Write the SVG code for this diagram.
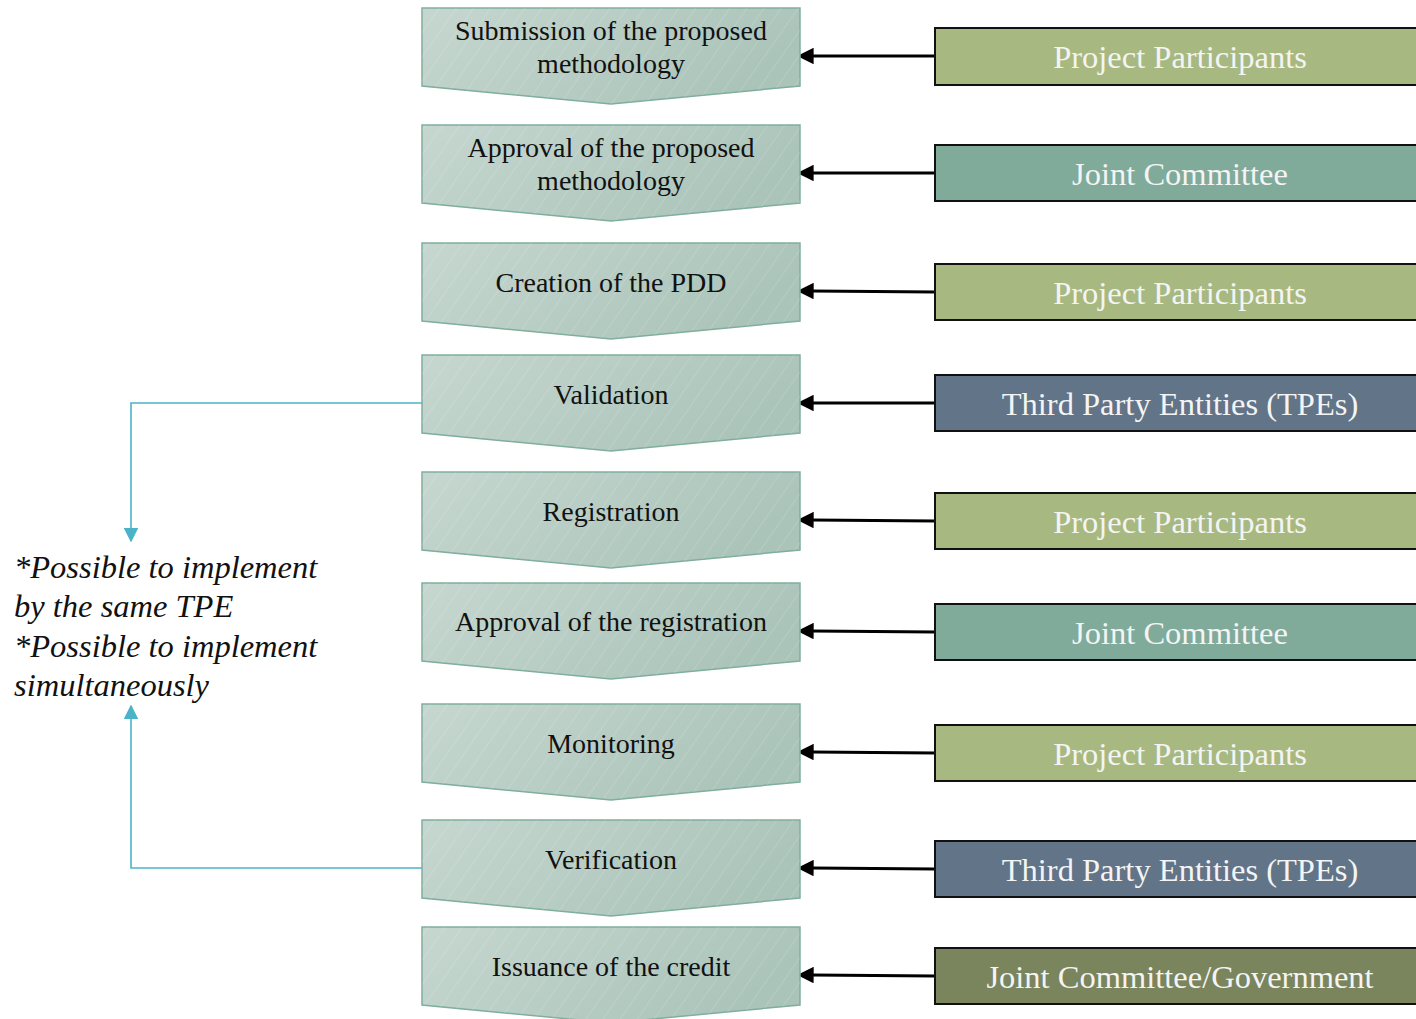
<svg xmlns="http://www.w3.org/2000/svg" width="1416" height="1019" viewBox="0 0 1416 1019">
<defs>
<linearGradient id="cg" x1="0" y1="0" x2="1" y2="0.3">
<stop offset="0" stop-color="#c6d7d0"/>
<stop offset="1" stop-color="#abc4ba"/>
</linearGradient>
<pattern id="hatch" width="14" height="14" patternUnits="userSpaceOnUse" patternTransform="rotate(35)">
<line x1="0" y1="0" x2="0" y2="14" stroke="#ffffff" stroke-opacity="0.35" stroke-width="0.8"/>
</pattern>
<marker id="ab" viewBox="0 0 10 10" refX="1" refY="5" markerWidth="5.5" markerHeight="5.5" orient="auto-start-reverse" markerUnits="strokeWidth">
<path d="M0,0 L10,5 L0,10 z" fill="#000"/>
</marker>
<marker id="at" viewBox="0 0 10 10" refX="9" refY="5" markerWidth="9" markerHeight="9" orient="auto" markerUnits="strokeWidth">
<path d="M0,0 L10,5 L0,10 z" fill="#4bb3c8"/>
</marker>
<style>
.chev{stroke:#7fae9e;stroke-width:1.5}
.ct{font-family:"Liberation Serif","Times New Roman",serif;font-size:28px;fill:#111;text-anchor:middle}
.box{stroke:#111;stroke-width:2}
.bt{font-family:"Liberation Serif","Times New Roman",serif;font-size:32.5px;fill:#f4f4f4;text-anchor:middle}
.pp{fill:#a7b980}
.jc{fill:#80aa9a}
.tpe{fill:#627487}
.gov{fill:#7a845d}
.arr{stroke:#000;stroke-width:3;fill:none}
.tl{stroke:#4bb3c8;stroke-width:1.6;fill:none}
.note{font-family:"Liberation Serif","Times New Roman",serif;font-style:italic;font-size:32.5px;fill:#111}
</style>
</defs>

<g id="connectors">
<line class="arr" x1="935" y1="56" x2="812" y2="56" marker-end="url(#ab)"/>
<line class="arr" x1="935" y1="173" x2="812" y2="173" marker-end="url(#ab)"/>
<line class="arr" x1="935" y1="292" x2="812" y2="291" marker-end="url(#ab)"/>
<line class="arr" x1="935" y1="403" x2="812" y2="403" marker-end="url(#ab)"/>
<line class="arr" x1="935" y1="521" x2="812" y2="520" marker-end="url(#ab)"/>
<line class="arr" x1="935" y1="632" x2="812" y2="631" marker-end="url(#ab)"/>
<line class="arr" x1="935" y1="753" x2="812" y2="752" marker-end="url(#ab)"/>
<line class="arr" x1="935" y1="869" x2="812" y2="868" marker-end="url(#ab)"/>
<line class="arr" x1="935" y1="976" x2="812" y2="975" marker-end="url(#ab)"/>
<polyline class="tl" points="422,403 131,403 131,541" marker-end="url(#at)"/>
<polyline class="tl" points="422,868 131,868 131,706" marker-end="url(#at)"/>
</g>

<g id="step1">
<path class="chev" fill="url(#cg)" d="M422,8 H800 V86 L611,104 L422,86 Z"/>
<path fill="url(#hatch)" d="M422,8 H800 V86 L611,104 L422,86 Z"/>
<text class="ct" x="611" y="40">Submission of the proposed</text>
<text class="ct" x="611" y="73">methodology</text>
</g>
<g id="step2">
<path class="chev" fill="url(#cg)" d="M422,125 H800 V203 L611,221 L422,203 Z"/>
<path fill="url(#hatch)" d="M422,125 H800 V203 L611,221 L422,203 Z"/>
<text class="ct" x="611" y="157">Approval of the proposed</text>
<text class="ct" x="611" y="190">methodology</text>
</g>
<g id="step3">
<path class="chev" fill="url(#cg)" d="M422,243 H800 V321 L611,339 L422,321 Z"/>
<path fill="url(#hatch)" d="M422,243 H800 V321 L611,339 L422,321 Z"/>
<text class="ct" x="611" y="292">Creation of the PDD</text>
</g>
<g id="step4">
<path class="chev" fill="url(#cg)" d="M422,355 H800 V433 L611,451 L422,433 Z"/>
<path fill="url(#hatch)" d="M422,355 H800 V433 L611,451 L422,433 Z"/>
<text class="ct" x="611" y="404">Validation</text>
</g>
<g id="step5">
<path class="chev" fill="url(#cg)" d="M422,472 H800 V550 L611,568 L422,550 Z"/>
<path fill="url(#hatch)" d="M422,472 H800 V550 L611,568 L422,550 Z"/>
<text class="ct" x="611" y="521">Registration</text>
</g>
<g id="step6">
<path class="chev" fill="url(#cg)" d="M422,583 H800 V661 L611,679 L422,661 Z"/>
<path fill="url(#hatch)" d="M422,583 H800 V661 L611,679 L422,661 Z"/>
<text class="ct" x="611" y="631">Approval of the registration</text>
</g>
<g id="step7">
<path class="chev" fill="url(#cg)" d="M422,704 H800 V782 L611,800 L422,782 Z"/>
<path fill="url(#hatch)" d="M422,704 H800 V782 L611,800 L422,782 Z"/>
<text class="ct" x="611" y="753">Monitoring</text>
</g>
<g id="step8">
<path class="chev" fill="url(#cg)" d="M422,820 H800 V898 L611,916 L422,898 Z"/>
<path fill="url(#hatch)" d="M422,820 H800 V898 L611,916 L422,898 Z"/>
<text class="ct" x="611" y="869">Verification</text>
</g>
<g id="step9">
<path class="chev" fill="url(#cg)" d="M422,927 H800 V1005 L611,1023 L422,1005 Z"/>
<path fill="url(#hatch)" d="M422,927 H800 V1005 L611,1023 L422,1005 Z"/>
<text class="ct" x="611" y="976">Issuance of the credit</text>
</g>

<g id="actor1"><rect class="box pp" x="935" y="28" width="490" height="57"/><text class="bt" x="1180" y="68">Project Participants</text></g>
<g id="actor2"><rect class="box jc" x="935" y="145" width="490" height="56"/><text class="bt" x="1180" y="185">Joint Committee</text></g>
<g id="actor3"><rect class="box pp" x="935" y="264" width="490" height="56"/><text class="bt" x="1180" y="304">Project Participants</text></g>
<g id="actor4"><rect class="box tpe" x="935" y="375" width="490" height="56"/><text class="bt" x="1180" y="415">Third Party Entities (TPEs)</text></g>
<g id="actor5"><rect class="box pp" x="935" y="493" width="490" height="56"/><text class="bt" x="1180" y="533">Project Participants</text></g>
<g id="actor6"><rect class="box jc" x="935" y="604" width="490" height="56"/><text class="bt" x="1180" y="644">Joint Committee</text></g>
<g id="actor7"><rect class="box pp" x="935" y="725" width="490" height="56"/><text class="bt" x="1180" y="765">Project Participants</text></g>
<g id="actor8"><rect class="box tpe" x="935" y="841" width="490" height="56"/><text class="bt" x="1180" y="881">Third Party Entities (TPEs)</text></g>
<g id="actor9"><rect class="box gov" x="935" y="948" width="490" height="56"/><text class="bt" x="1180" y="988">Joint Committee/Government</text></g>

<g id="note">
<text class="note" x="14" y="578">*Possible to implement</text>
<text class="note" x="14" y="617">by the same TPE</text>
<text class="note" x="14" y="657">*Possible to implement</text>
<text class="note" x="14" y="696">simultaneously</text>
</g>
</svg>
